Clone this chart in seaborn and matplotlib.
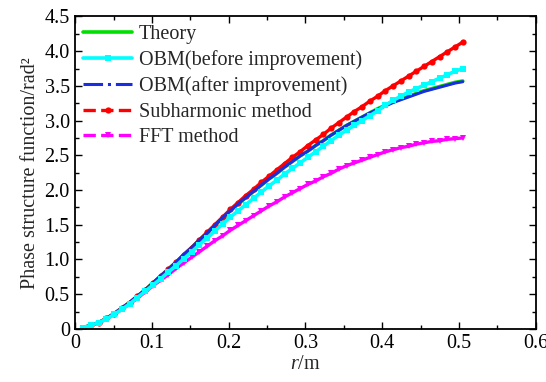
import numpy as np
import pandas as pd
import matplotlib
matplotlib.use('Agg')
import matplotlib.pyplot as plt
import seaborn as sns
from matplotlib.lines import Line2D
from matplotlib.ticker import MultipleLocator, FuncFormatter

# sample points along r (m)
r = np.linspace(0.0101, 0.505, 50)

theory = [0.02, 0.05, 0.09, 0.15, 0.22, 0.30, 0.38, 0.47, 0.56, 0.66,
          0.76, 0.86, 0.96, 1.07, 1.17, 1.28, 1.38, 1.49, 1.60, 1.70,
          1.80, 1.89, 1.98, 2.07, 2.16, 2.24, 2.33, 2.41, 2.49, 2.56,
          2.64, 2.71, 2.79, 2.86, 2.93, 2.99, 3.05, 3.11, 3.17, 3.22,
          3.27, 3.31, 3.35, 3.39, 3.43, 3.46, 3.49, 3.52, 3.55, 3.57]

obm_before = [0.02, 0.05, 0.09, 0.14, 0.21, 0.28, 0.36, 0.45, 0.54, 0.63,
              0.72, 0.82, 0.91, 1.01, 1.11, 1.21, 1.31, 1.41, 1.51, 1.61,
              1.70, 1.79, 1.88, 1.97, 2.06, 2.14, 2.23, 2.31, 2.39, 2.47,
              2.55, 2.63, 2.71, 2.79, 2.86, 2.93, 3.00, 3.07, 3.14, 3.22,
              3.29, 3.35, 3.41, 3.46, 3.51, 3.56, 3.61, 3.66, 3.71, 3.75]

obm_after = [0.02, 0.05, 0.09, 0.15, 0.22, 0.30, 0.38, 0.47, 0.56, 0.66,
             0.76, 0.86, 0.96, 1.07, 1.17, 1.28, 1.38, 1.49, 1.60, 1.70,
             1.80, 1.89, 1.98, 2.07, 2.16, 2.24, 2.33, 2.41, 2.49, 2.56,
             2.64, 2.71, 2.79, 2.86, 2.93, 2.99, 3.05, 3.11, 3.16, 3.21,
             3.26, 3.30, 3.34, 3.38, 3.42, 3.45, 3.48, 3.51, 3.54, 3.56]

subharmonic = [0.02, 0.05, 0.09, 0.15, 0.22, 0.30, 0.38, 0.47, 0.56, 0.66,
               0.76, 0.86, 0.96, 1.07, 1.17, 1.28, 1.39, 1.50, 1.61, 1.72,
               1.82, 1.92, 2.01, 2.11, 2.20, 2.29, 2.38, 2.47, 2.55, 2.64,
               2.72, 2.80, 2.89, 2.97, 3.05, 3.13, 3.20, 3.28, 3.35, 3.43,
               3.50, 3.57, 3.64, 3.71, 3.78, 3.85, 3.92, 3.99, 4.06, 4.13]

fft = [0.02, 0.05, 0.09, 0.14, 0.21, 0.28, 0.36, 0.44, 0.53, 0.62,
       0.70, 0.78, 0.87, 0.95, 1.03, 1.11, 1.19, 1.27, 1.34, 1.42,
       1.49, 1.56, 1.63, 1.70, 1.77, 1.83, 1.90, 1.96, 2.02, 2.08,
       2.13, 2.19, 2.24, 2.30, 2.35, 2.39, 2.43, 2.47, 2.51, 2.55,
       2.58, 2.61, 2.63, 2.66, 2.68, 2.70, 2.71, 2.73, 2.74, 2.75]

names = ['Theory', 'OBM(before improvement)', 'OBM(after improvement)',
         'Subharmonic method', 'FFT method']
df = pd.DataFrame({'r': r, names[0]: theory, names[1]: obm_before,
                   names[2]: obm_after, names[3]: subharmonic, names[4]: fft})

sns.set_theme(style='ticks')
plt.rcParams['font.family'] = ['Liberation Serif', 'DejaVu Serif']
plt.rcParams['mathtext.fontset'] = 'custom'
plt.rcParams['mathtext.rm'] = 'Liberation Serif'
plt.rcParams['mathtext.it'] = 'Liberation Serif:italic'
fs = 14.5

fig = plt.figure(figsize=(5.46, 3.82), dpi=100)
ax = fig.add_axes([0.138, 0.139, 0.843, 0.818])

# (color, plot linestyle, legend linestyle, marker, markersize, lw, zorder)
styles = {
    names[0]: ('#00e000', '-', '-', None, 0, 2.6, 2.0),
    names[1]: ('#00ffff', '-', '-', 's', 4.5, 2.6, 2.4),
    names[2]: ('#1a2ee0', '-', '-.', None, 0, 2.2, 2.3),
    names[3]: ('#ff0000', '-', '--', 'o', 4.5, 2.4, 2.1),
    names[4]: ('#ff00ff', '-', '--', 'v', 5.0, 2.4, 2.2),
}

handles = []
for name, (c, ls, lls, mk, ms, lw, z) in styles.items():
    sns.lineplot(data=df, x='r', y=name, ax=ax, color=c, linestyle=ls, lw=lw,
                 marker=mk, markersize=ms, markeredgewidth=0, zorder=z, legend=False)
    handles.append(Line2D([], [], color=c, linestyle=lls, lw=lw, marker=mk,
                          markersize=ms, markeredgewidth=0, label=name))

ax.set_xlim(0, 0.6)
ax.set_ylim(0, 4.5)
ax.xaxis.set_major_locator(MultipleLocator(0.1))
ax.xaxis.set_minor_locator(MultipleLocator(0.05))
ax.yaxis.set_major_locator(MultipleLocator(0.5))
ax.yaxis.set_minor_locator(MultipleLocator(0.25))
fmt = FuncFormatter(lambda v, p: '0' if abs(v) < 1e-9 else f'{v:.1f}')
ax.xaxis.set_major_formatter(fmt)
ax.yaxis.set_major_formatter(fmt)
ax.tick_params(which='both', direction='in', top=True, right=True, labelsize=fs,
               colors='black', width=1.0)
ax.tick_params(which='major', length=5, pad=4)
ax.tick_params(which='minor', length=3)
for s in ax.spines.values():
    s.set_linewidth(1.3)
    s.set_color('black')

ax.set_xlabel('$r$/m', fontsize=fs, labelpad=1)
ax.set_ylabel('Phase structure function/rad²', fontsize=fs, labelpad=3)

ax.legend(handles=handles, loc='upper left', frameon=False, fontsize=fs,
          handlelength=2.4, handletextpad=0.35, labelspacing=0.32,
          borderaxespad=0.0, bbox_to_anchor=(0.0, 1.0))

fig.savefig('out.png', dpi=100)
